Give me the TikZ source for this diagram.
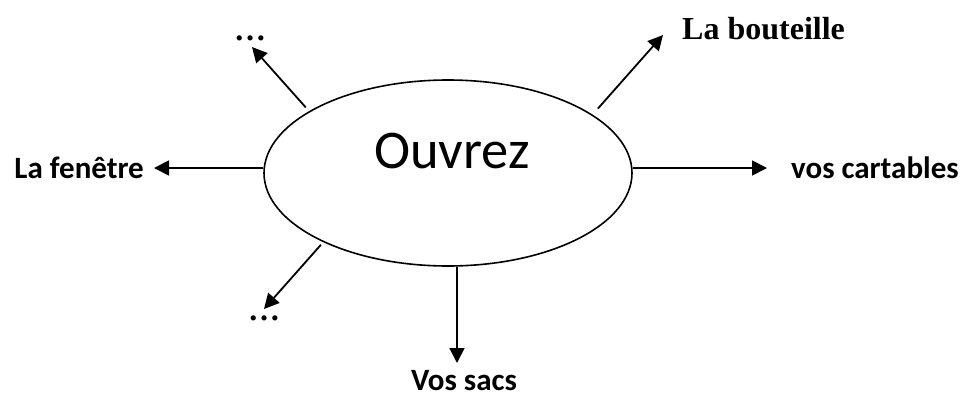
\documentclass[tikz,border=0pt]{standalone}
\usepackage{fontspec}
\setmainfont{Carlito}
\newfontfamily\tnr{Liberation Serif}
\usetikzlibrary{shapes.geometric,arrows.meta}
\tikzset{
  arr/.style={line width=1.8pt,-{Triangle[length=15pt,width=15pt]}},
  lab/.style={inner sep=0pt,font=\fontsize{31}{37}\selectfont\bfseries},
  serlab/.style={inner sep=0pt,font=\fontsize{32}{38}\selectfont\tnr\bfseries},
}
\begin{document}
\begin{tikzpicture}[x=1pt,y=-1pt]
\useasboundingbox (0,0) rectangle (966,397);
\node[ellipse,draw,line width=1.6pt,inner sep=0pt,minimum width=368pt,minimum height=186pt] (c) at (448,173) {};
\node[inner sep=0pt,anchor=base,font=\fontsize{54.5}{60}\selectfont] (t) at (452,168) {Ouvrez};
% labels
\node[lab,anchor=base east] (fen) at (144,178) {La fenêtre};
\node[lab,anchor=base west] (cart) at (791,178) {vos cartables};
\node[lab,anchor=base] (sacs) at (464,390) {Vos sacs};
\node[serlab,anchor=base west] (bout) at (682,39) {La bouteille};
\node[serlab,anchor=base] (d1) at (250,40) {…};
\node[serlab,anchor=base] (d2) at (264,320) {…};
% connector ends
\coordinate (cL) at ([yshift=5pt]c.west);
\coordinate (cR) at ([yshift=5pt]c.east);
\coordinate (cD) at ([xshift=9pt]c.south);
\coordinate (tL) at (154,168);
\coordinate (tR) at (767,168);
\coordinate (tD) at (457,363);
\coordinate (tUL) at (252,47);
\coordinate (tUR) at (663,35);
\coordinate (tLL) at (264,309);
% connectors
\draw[arr] (cL) -- (tL);
\draw[arr] (cR) -- (tR);
\draw[arr] (cD) -- (tD);
\draw[arr,shorten <=5pt] (c.156.4) -- (tUL);
\draw[arr,shorten <=8pt] (c.22.5) -- (tUR);
\draw[arr,shorten <=3.5pt] (c.209.5) -- (tLL);
\end{tikzpicture}
\end{document}
